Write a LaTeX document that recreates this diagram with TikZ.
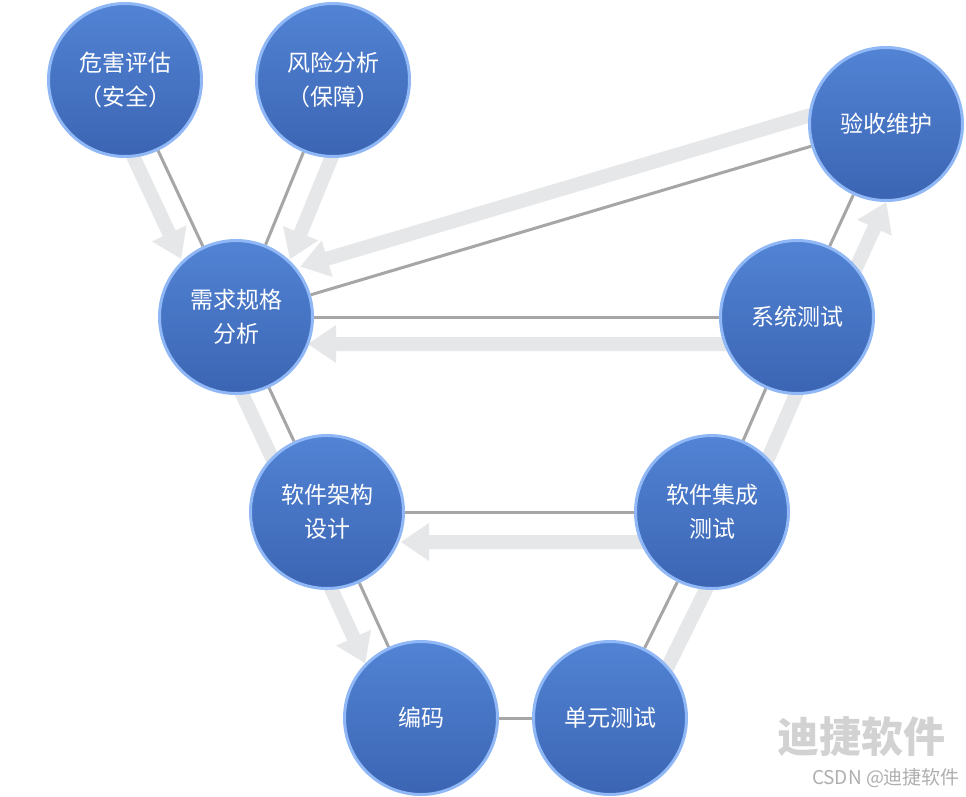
\documentclass[tikz,border=0pt]{standalone}
\usepackage{fontspec}
\setmainfont{Noto Sans CJK SC}
\usetikzlibrary{calc}
\definecolor{ctop}{HTML}{5283D4}
\definecolor{cbot}{HTML}{3B65B3}
\definecolor{cedge}{HTML}{90B7F6}
\definecolor{clink}{HTML}{A6A6A6}
\definecolor{cband}{HTML}{E6E7E9}
\definecolor{cwm}{HTML}{D2D2D2}
\definecolor{cwm2}{HTML}{AFAFAF}
\pgfdeclarelayer{background}
\pgfsetlayers{background,main}
% #1 source, #2 target, #3 side angle, #4 offset, #5 tip distance, #6 head base distance
\newcommand{\fatarr}[6]{%
  \coordinate (fa-s) at ($(#1)!#4!#3:(#2)$);
  \coordinate (fa-e) at ($(#2)+(fa-s)-(#1)$);
  \coordinate (fa-t) at ($(fa-e)!#5!(fa-s)$);
  \coordinate (fa-b) at ($(fa-e)!#6!(fa-s)$);
  \fill[cband] ($(fa-s)!7pt!90:(fa-t)$) -- ($(fa-b)!7pt!90:(fa-t)$) --
    ($(fa-b)!19pt!90:(fa-t)$) -- (fa-t) -- ($(fa-b)!19pt!-90:(fa-t)$) --
    ($(fa-b)!7pt!-90:(fa-t)$) -- ($(fa-s)!7pt!-90:(fa-t)$) -- cycle;}
\newcommand{\fatband}[4]{%
  \coordinate (fa-s) at ($(#1)!#4!#3:(#2)$);
  \coordinate (fa-e) at ($(#2)+(fa-s)-(#1)$);
  \draw[cband, line width=14pt] (fa-s) -- (fa-e);}
\begin{document}
\begin{tikzpicture}[x=1pt,y=-1pt,
  stage/.style={circle, minimum size=153pt, inner sep=0pt, top color=ctop,
    bottom color=cbot, draw=cedge, line width=3pt, text=white,
    font=\fontsize{23}{34}\selectfont, align=center},
  link/.style={draw=clink, line width=3pt}]
\useasboundingbox (0,0) rectangle (966,796);
\node[stage] (haz) at (125,80) {危害评估\\（安全）};
\node[stage] (risk) at (333,80) {风险分析\\（保障）};
\node[stage] (acc) at (886,124) {验收维护};
\node[stage] (req) at (236,317) {需求规格\\分析};
\node[stage] (sys) at (797,317) {系统测试};
\node[stage] (arch) at (327,512) {软件架构\\设计};
\node[stage] (integ) at (712,512) {软件集成\\测试};
\node[stage] (code) at (421,718) {编码};
\node[stage] (unit) at (610,718) {单元测试};
\node[text=cwm, font=\fontsize{42}{42}\selectfont\bfseries, inner sep=0pt] (wm) at (861,737) {迪捷软件};
\node[text=cwm2, font=\fontsize{19}{19}\selectfont, inner sep=0pt] (wm2) at (886,778) {CSDN @迪捷软件};
\begin{pgfonlayer}{background}
\fill[white] (0,0) rectangle (966,796);
\draw[link] (haz) -- (req);
\draw[link] (risk) -- (req);
\draw[link] (acc) -- (req);
\draw[link] (sys) -- (req);
\draw[link] (acc) -- (sys);
\draw[link] (sys) -- (integ);
\draw[link] (req) -- (arch);
\draw[link] (arch) -- (integ);
\draw[link] (arch) -- (code);
\draw[link] (integ) -- (unit);
\draw[link] (code) -- (unit);
\fatarr{haz.center}{req.center}{-90}{25pt}{76pt}{104pt}
\fatarr{risk.center}{req.center}{90}{28pt}{74pt}{102pt}
\fatarr{acc.center}{req.center}{-90}{30pt}{76pt}{104pt}
\fatarr{sys.center}{req.center}{90}{27pt}{72pt}{100pt}
\fatarr{sys.center}{acc.center}{-90}{33pt}{71pt}{99pt}
\fatband{unit.center}{integ.center}{-90}{29pt}
\fatband{integ.center}{sys.center}{-90}{30pt}
\fatband{req.center}{arch.center}{-90}{27pt}
\fatarr{arch.center}{code.center}{-90}{28pt}{73pt}{101pt}
\fatarr{integ.center}{arch.center}{90}{30pt}{74pt}{102pt}
\end{pgfonlayer}
\end{tikzpicture}
\end{document}
